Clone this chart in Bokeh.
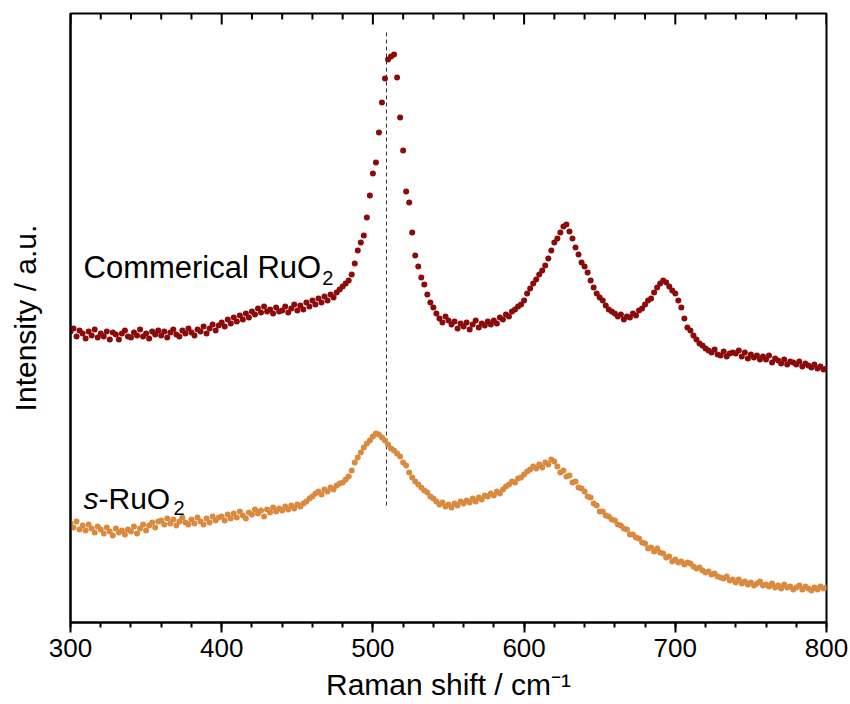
from bokeh.plotting import figure
from bokeh.models import Range1d, SingleIntervalTicker, FixedTicker, Arrow, ColumnDataSource
from bokeh.core.properties import value
from bokeh.embed import file_html
from bokeh.resources import INLINE
import numpy as np

# Raman shift grid (cm^-1)
raman_shift = np.arange(300, 802, 2)

# Commercial RuO2 intensity (a.u., offset)
commercial = [
    291, 294, 286, 292, 289, 284, 291, 287, 293, 285,
    289, 286, 291, 283, 290, 288, 283, 289, 292, 286,
    285, 290, 287, 293, 286, 289, 284, 291, 288, 292,
    287, 291, 285, 290, 293, 288, 286, 292, 289, 294,
    290, 287, 293, 291, 296, 289, 294, 298, 292, 297,
    300, 296, 303, 299, 305, 301, 307, 303, 309, 305,
    311, 308, 314, 310, 316, 311, 313, 309, 315, 311,
    312, 316, 310, 314, 318, 312, 317, 313, 320, 316,
    322, 318, 324, 320, 326, 322, 328, 325, 330, 333,
    336, 339, 342, 348, 359, 372, 380, 387, 405, 427,
    449, 460, 490, 520, 544, 563, 566, 568, 545, 505,
    472, 431, 420, 390, 367, 356, 345, 338, 328, 320,
    315, 309, 304, 300, 306, 302, 298, 301, 294, 299,
    296, 300, 293, 298, 302, 295, 299, 297, 301, 298,
    302, 299, 305, 303, 308, 306, 311, 313, 316, 318,
    322, 329, 334, 339, 343, 348, 352, 357, 364, 372,
    380, 384, 390, 396, 398, 391, 384, 375, 368, 360,
    356, 350, 342, 335, 329, 325, 322, 317, 313, 311,
    309, 306, 308, 303, 306, 305, 309, 307, 312, 314,
    318, 322, 324, 330, 335, 339, 342, 340, 336, 332,
    329, 322, 315, 304, 295, 292, 287, 283, 279, 277,
    274, 272, 270, 273, 268, 267, 271, 266, 269, 270,
    269, 272, 266, 270, 264, 268, 265, 267, 263, 266,
    263, 267, 260, 264, 262, 259, 263, 258, 261, 260,
    258, 261, 256, 259, 257, 255, 258, 254, 256, 253,
    254,
]

# s-RuO2 intensity (a.u.)
s_ruo2 = [
    99, 95, 101, 93, 97, 92, 98, 94, 90, 96,
    93, 89, 95, 91, 87, 94, 90, 92, 88, 93,
    91, 96, 89, 94, 98, 92, 97, 100, 95, 101,
    102, 98, 104, 99, 103, 97, 101, 105, 100, 98,
    103, 99, 105, 101, 98, 104, 100, 106, 102, 105,
    106, 102, 108, 104, 109, 105, 111, 107, 104, 110,
    108, 113, 109, 112, 106, 113, 110, 115, 111, 114,
    112, 116, 113, 117, 114, 118, 116, 119, 121, 124,
    126, 129, 131, 128, 133, 131, 135, 133, 137, 139,
    140, 143, 146, 152, 160, 165, 170, 175, 179, 182,
    186, 189, 188, 185, 182, 178, 174, 172, 169, 166,
    160, 157, 150, 145, 141, 138, 135, 132, 130, 126,
    124, 121, 118, 120, 116, 118, 115, 119, 117, 121,
    119, 122, 120, 124, 121, 125, 123, 127, 126, 129,
    127, 131, 129, 133, 136, 138, 141, 140, 144, 145,
    148, 151, 153, 156, 154, 158, 155, 160, 158, 163,
    161, 156, 150, 152, 146, 147, 140, 141, 135, 134,
    131, 126, 125, 119, 117, 111, 111, 107, 106, 103,
    102, 98, 97, 94, 93, 88, 88, 85, 84, 80,
    79, 74, 75, 71, 74, 70, 69, 65, 66, 61,
    63, 60, 61, 58, 60, 59, 56, 54, 55, 52,
    50, 51, 48, 49, 46, 45, 44, 46, 42, 43,
    40, 43, 39, 41, 38, 40, 37, 39, 41, 37,
    38, 36, 39, 35, 37, 34, 38, 35, 36, 33,
    35, 37, 33, 36, 34, 32, 35, 33, 36, 34,
    35,
]

ref_line_x = 509          # dashed reference line position (cm^-1)
ref_line_y = [117, 593]   # vertical extent (a.u.)

x_min, x_max = 300, 800
y_min, y_max = 0, 609
x_major_ticks = [300, 400, 500, 600, 700, 800]
x_minor_ticks = [v for v in range(320, 800, 20) if v % 100 != 0]

FONT = "Liberation Sans"

p = figure(width=850, height=704, output_backend="svg", toolbar_location=None,
           x_range=Range1d(x_min, x_max), y_range=Range1d(y_min, y_max),
           min_border_left=70, min_border_right=24, min_border_top=13,
           min_border_bottom=82)
p.background_fill_color = "white"
p.border_fill_color = "white"
p.grid.visible = False
p.outline_line_color = "black"
p.outline_line_width = 2

ticker = SingleIntervalTicker(interval=100, num_minor_ticks=5)
xa = p.xaxis[0]
xa.ticker = ticker
xa.axis_line_width = 2
xa.major_tick_line_width = 2
xa.minor_tick_line_width = 2
xa.major_tick_out = 10
xa.major_tick_in = 0
xa.minor_tick_out = 5
xa.minor_tick_in = 0
xa.major_label_text_font = FONT
xa.major_label_text_font_size = "26px"
xa.major_label_text_color = "black"
xa.major_label_standoff = 6
xa.axis_label = "Raman shift / cm\u207b\u00b9"
xa.axis_label_text_font = FONT
xa.axis_label_text_font_size = "30px"
xa.axis_label_text_font_style = "normal"
xa.axis_label_text_color = "black"
xa.axis_label_standoff = 8

ya = p.yaxis[0]
ya.ticker = FixedTicker(ticks=[])
ya.axis_line_width = 2
ya.major_tick_line_color = None
ya.minor_tick_line_color = None
ya.axis_label = "Intensity / a.u."
ya.axis_label_text_font = FONT
ya.axis_label_text_font_size = "30px"
ya.axis_label_text_font_style = "normal"
ya.axis_label_text_color = "black"
ya.axis_label_standoff = 29

# Mirrored inward ticks along the top edge of the frame (1 a.u. = 1 px here)
major_len, minor_len = 11, 6
top_major = ColumnDataSource(dict(
    x0=x_major_ticks, x1=x_major_ticks,
    y0=[y_max] * len(x_major_ticks), y1=[y_max - major_len] * len(x_major_ticks)))
top_minor = ColumnDataSource(dict(
    x0=x_minor_ticks, x1=x_minor_ticks,
    y0=[y_max] * len(x_minor_ticks), y1=[y_max - minor_len] * len(x_minor_ticks)))
for src in (top_major, top_minor):
    p.add_layout(Arrow(start=None, end=None, source=src,
                       x_start="x0", y_start="y0", x_end="x1", y_end="y1",
                       line_color="black", line_width=2))

p.segment(x0=[ref_line_x], x1=[ref_line_x], y0=[ref_line_y[0]], y1=[ref_line_y[1]],
          line_color="#333333", line_width=1, line_dash="4 3")

p.scatter(raman_shift, commercial, size=6, color="#8b0a0a", line_width=0)
p.scatter(raman_shift, s_ruo2, size=6, color="#da8a3e", line_width=0)

# Labels
p.text(x=[308.6], y=[355], text=["Commerical RuO"], text_font=value(FONT),
       text_font_size=value("31px"), text_color="black",
       text_baseline="alphabetic", text_align="left")
p.text(x=[466.5], y=[345], text=["2"], text_font=value(FONT),
       text_font_size=value("20px"), text_color="black",
       text_baseline="alphabetic", text_align="left")
p.text(x=[308.6], y=[124], text=["s"], text_font=value(FONT),
       text_font_size=value("30px"), text_font_style=value("italic"),
       text_color="black", text_baseline="alphabetic", text_align="left")
p.text(x=[318.5], y=[124], text=["-RuO"], text_font=value(FONT),
       text_font_size=value("30px"), text_color="black",
       text_baseline="alphabetic", text_align="left")
p.text(x=[368.1], y=[115], text=["2"], text_font=value(FONT),
       text_font_size=value("20px"), text_color="black",
       text_baseline="alphabetic", text_align="left")

open("out.html", "w").write(file_html(p, INLINE))
